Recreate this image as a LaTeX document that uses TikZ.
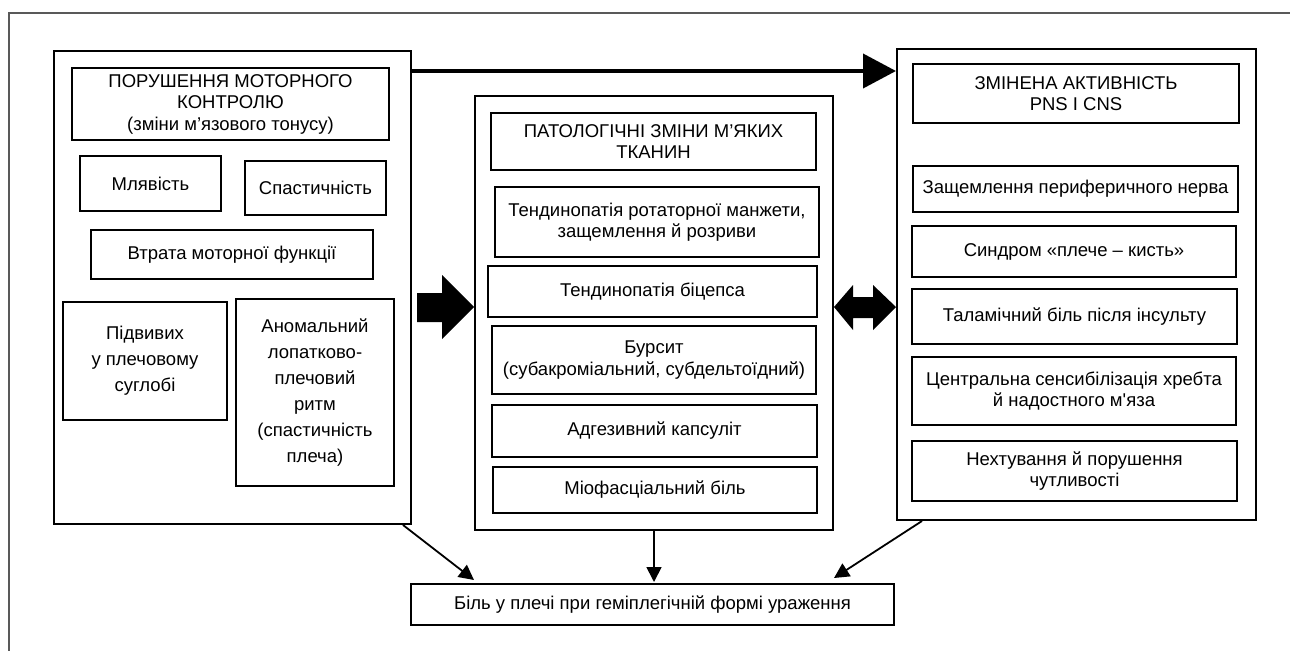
\documentclass[tikz,border=0pt]{standalone}
\usepackage{fontspec}
\setmainfont{Liberation Sans}
\usetikzlibrary{arrows.meta}

\begin{document}
\begin{tikzpicture}[
  x=1pt, y=-1pt,
  every node/.style={align=center, inner sep=0pt, font=\fontsize{18.5}{21.5}\selectfont},
  group/.style={draw, line width=2pt},
  box/.style={draw, line width=2pt},
  loose/.style={font=\fontsize{18.5}{26}\selectfont},
  arrow/.style={-{Triangle[length=15pt, width=15pt]}, line width=1.8pt},
  bigarrow/.style={-{Triangle[length=33pt, width=34pt]}, line width=4pt}
]
\useasboundingbox (0,0) rectangle (1290,651);

% Frame
\draw[black!65, line width=1.2pt] (1290,13) -- (9,13) -- (9,651);

% Groups
\node[group, minimum width=357pt, minimum height=473pt] (motor) at (232.5,287.5) {};
\node[group, minimum width=358pt, minimum height=434pt] (soft) at (654,313) {};
\node[group, minimum width=359pt, minimum height=471pt] (nerv) at (1076.5,284.5) {};

% Motor control
\node[box, minimum width=317pt, minimum height=72pt] (motorhead) at (230.5,104) {ПОРУШЕННЯ МОТОРНОГО\\КОНТРОЛЮ\\(зміни м’язового тонусу)};
\node[box, minimum width=141pt, minimum height=55pt] (flaccid) at (150.5,183.5) {Млявість};
\node[box, minimum width=141pt, minimum height=54pt] (spastic) at (315.5,188) {Спастичність};
\node[box, minimum width=282pt, minimum height=49pt] (loss) at (232,254.5) {Втрата моторної функції};
\node[box, loose, minimum width=164pt, minimum height=118pt] (sublux) at (145,361) {Підвивих\\у плечовому\\суглобі};
\node[box, loose, minimum width=158pt, minimum height=187pt] (rhythm) at (315,392.5) {Аномальний\\лопатково-\\плечовий\\ритм\\(спастичність\\плеча)};

% Soft tissue
\node[box, minimum width=325pt, minimum height=57pt] (softhead) at (653.5,141.5) {ПАТОЛОГІЧНІ ЗМІНИ М’ЯКИХ\\ТКАНИН};
\node[box, minimum width=324pt, minimum height=70pt] (cuff) at (657,222) {Тендинопатія ротаторної манжети,\\защемлення й розриви};
\node[box, minimum width=329pt, minimum height=51pt] (biceps) at (652.5,291.5) {Тендинопатія біцепса};
\node[box, minimum width=324pt, minimum height=68pt] (bursa) at (654,360) {Бурсит\\(субакроміальний, субдельтоїдний)};
\node[box, minimum width=325pt, minimum height=52pt] (capsule) at (654.5,431) {Адгезивний капсуліт};
\node[box, minimum width=324pt, minimum height=46pt] (myo) at (655,490) {Міофасціальний біль};

% PNS / CNS
\node[box, minimum width=326pt, minimum height=59pt] (nervhead) at (1076,93.5) {ЗМІНЕНА АКТИВНІСТЬ\\PNS I CNS};
\node[box, minimum width=325pt, minimum height=46pt] (entrap) at (1075.5,189) {Защемлення периферичного нерва};
\node[box, minimum width=324pt, minimum height=51pt] (hand) at (1074,251.5) {Синдром «плече – кисть»};
\node[box, minimum width=325pt, minimum height=55pt] (thal) at (1074.5,316.5) {Таламічний біль після інсульту};
\node[box, minimum width=324pt, minimum height=68pt] (central) at (1074,391) {Центральна сенсибілізація хребта\\й надостного м\textquotesingle яза};
\node[box, minimum width=325pt, minimum height=60pt] (neglect) at (1074.5,471) {Нехтування й порушення\\чутливості};

% Result
\node[box, minimum width=483pt, minimum height=41pt] (pain) at (652.5,604.5) {Біль у плечі при геміплегічній формі ураження};

% Arrows
\coordinate (toprow) at (0,71);
\draw[bigarrow] (motor.east |- toprow) -- (nerv.west |- toprow);
\fill (417,293) -- (442,293) -- (442,275) -- (474,307) -- (442,339) -- (442,322) -- (417,322) -- cycle;
\fill (834,307) -- (853,285) -- (853,297) -- (873,297) -- (873,285) -- (896,307)
  -- (873,330) -- (873,318) -- (853,318) -- (853,330) -- cycle;
\draw[arrow] ([xshift=-9pt]motor.south east) -- ([xshift=64pt, yshift=3pt]pain.north west);
\draw[arrow] (soft.south) -- ([yshift=1pt]soft.south |- pain.north);
\draw[arrow] ([xshift=26pt]nerv.south west) -- ([xshift=-61pt, yshift=5pt]pain.north east);

\end{tikzpicture}
\end{document}
